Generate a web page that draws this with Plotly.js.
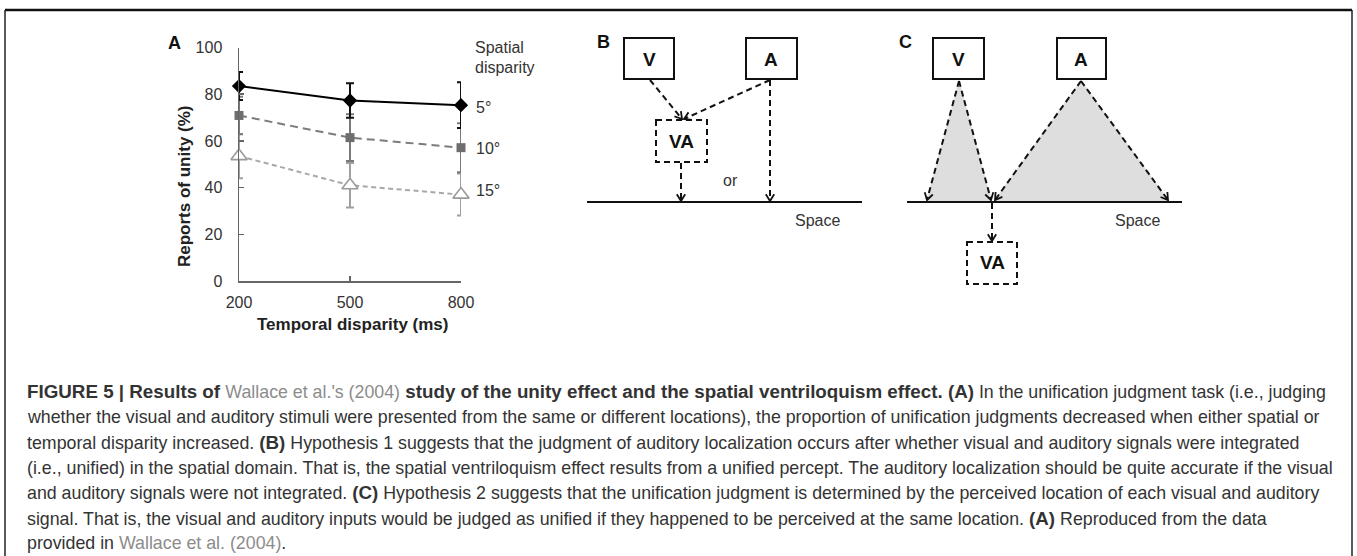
<!DOCTYPE html>
<html><head><meta charset="utf-8">
<script src="https://cdn.plot.ly/plotly-3.0.1.min.js"></script>
<style>html,body{margin:0;padding:0;background:#fff;} #chart{width:1357px;height:556px;}</style>
</head><body><div id="chart"></div>
<script>
// ---- data (panel A) ----
const temporalDisparity = [200, 500, 800];
const yTickVals = [0, 20, 40, 60, 80, 100];
const spatialLabels = ['5°', '10°', '15°'];
const unity5  = [83.5, 77.3, 75.3];
const err5    = [6, 7.4, 9.8];
const unity10 = [70.9, 61.4, 57.1];
const err10   = [8, 10, 10.5];
const unity15 = [53.5, 41, 37];
const err15   = [9.5, 9.5, 9];

const B = s => '<span style="font-size:18.8px"><b>' + s + '</b></span>';
const G = s => '<span style="color:#8c8c8c">' + s + '</span>';
const captionLines = [
  B('FIGURE 5 | Results of ') + G('Wallace et al.\'s (2004)') + B(' study of the unity effect and the spatial ventriloquism effect. (A)') + ' In the unification judgment task (i.e., judging',
  'whether the visual and auditory stimuli were presented from the same or different locations), the proportion of unification judgments decreased when either spatial or',
  'temporal disparity increased. ' + B('(B)') + ' Hypothesis 1 suggests that the judgment of auditory localization occurs after whether visual and auditory signals were integrated',
  '(i.e., unified) in the spatial domain. That is, the spatial ventriloquism effect results from a unified percept. The auditory localization should be quite accurate if the visual',
  'and auditory signals were not integrated. ' + B('(C)') + ' Hypothesis 2 suggests that the unification judgment is determined by the perceived location of each visual and auditory',
  'signal. That is, the visual and auditory inputs would be judged as unified if they happened to be perceived at the same location. ' + B('(A)') + ' Reproduced from the data',
  'provided in ' + G('Wallace et al. (2004)') + '.'
];

// ---- layout helpers (pixel -> paper) ----
const W = 1357, H = 556;
const px = x => x / W, py = y => 1 - y / H;
const FONT = 'Liberation Sans, Arial, sans-serif';
const DASH = '6px,4px';

function series(y, e, name, lineCol, dash, marker, errCol) {
  return {
    x: temporalDisparity, y: y, name: name, type: 'scatter', mode: 'lines+markers',
    line: {color: lineCol, width: 2, dash: dash}, marker: marker,
    error_y: {type: 'data', array: e, visible: true, color: errCol, thickness: 2, width: 4},
    cliponaxis: false, hoverinfo: 'skip', showlegend: false
  };
}
const traces = [
  series(unity15, err15, spatialLabels[2], '#a8a8a8', '5px,3.5px',
         {symbol: 'triangle-up', size: 14, color: '#ffffff', line: {color: '#9a9a9a', width: 1.6}}, '#a0a0a0'),
  series(unity10, err10, spatialLabels[1], '#7c7c7c', '8px,5px',
         {symbol: 'square', size: 9, color: '#6e6e6e'}, '#7a7a7a'),
  series(unity5, err5, spatialLabels[0], '#000000', 'solid',
         {symbol: 'diamond', size: 11, color: '#000000'}, '#111111')
];

const shapes = [];
const annotations = [];
function L(x0, y0, x1, y1, w, dash, col) {
  shapes.push({type: 'line', xref: 'paper', yref: 'paper', x0: px(x0), y0: py(y0), x1: px(x1), y1: py(y1),
    line: {color: col || '#111', width: w || 2, dash: dash || 'solid'}});
}
function rect(x0, y0, x1, y1, dash) {
  shapes.push({type: 'rect', xref: 'paper', yref: 'paper', x0: px(x0), y0: py(y0), x1: px(x1), y1: py(y1),
    line: {color: '#111', width: 2, dash: dash || 'solid'}, fillcolor: 'rgba(0,0,0,0)'});
}
function poly(pts, fill) {
  const d = pts.map((p, i) => (i ? 'L' : 'M') + px(p[0]) + ',' + py(p[1])).join(' ') + ' Z';
  shapes.push({type: 'path', xref: 'paper', yref: 'paper', path: d, fillcolor: fill, line: {width: 0}});
}
function arrow(x0, y0, x1, y1) {
  L(x0, y0, x1, y1, 2, DASH);
  const a = Math.atan2(y1 - y0, x1 - x0), len = 8, s = 0.55;
  const p1 = [x1 - len * Math.cos(a - s), y1 - len * Math.sin(a - s)];
  const p2 = [x1 - len * Math.cos(a + s), y1 - len * Math.sin(a + s)];
  shapes.push({type: 'path', xref: 'paper', yref: 'paper',
    path: 'M' + px(p1[0]) + ',' + py(p1[1]) + ' L' + px(x1) + ',' + py(y1) + ' L' + px(p2[0]) + ',' + py(p2[1]),
    line: {color: '#111', width: 1.8}});
}
function txt(x, y, t, opt) {
  opt = opt || {};
  annotations.push(Object.assign({xref: 'paper', yref: 'paper', x: px(x), y: py(y), text: t, showarrow: false,
    xanchor: opt.xa || 'center', yanchor: 'middle',
    font: {family: FONT, size: opt.size || 16, color: opt.color || '#333'}}, opt.extra || {}));
}

// frame
L(5, 10, 1352, 10, 2.5, 'solid', '#111');
L(5, 10, 5, 556, 1.5, 'solid', '#222');
L(1352, 10, 1352, 556, 1.5, 'solid', '#222');

// ---- panel A texts ----
txt(174, 43, '<b>A</b>', {size: 18, color: '#111'});
txt(185, 186, '<b>Reports of unity (%)</b>', {size: 17, color: '#222', extra: {textangle: -90}});
txt(352, 324, '<b>Temporal disparity (ms)</b>', {size: 17, color: '#222'});
txt(473, 47, 'Spatial', {xa: 'left'});
txt(473, 67, 'disparity', {xa: 'left'});
txt(474, 107, spatialLabels[0], {xa: 'left'});
txt(474, 148, spatialLabels[1], {xa: 'left'});
txt(474, 191, spatialLabels[2], {xa: 'left'});

// ---- panel B ----
txt(603, 42, '<b>B</b>', {size: 18, color: '#111'});
rect(624, 38, 674, 79);
rect(746, 38, 797, 79);
txt(649, 59, '<b>V</b>', {size: 19, color: '#111'});
txt(771, 59, '<b>A</b>', {size: 19, color: '#111'});
rect(656, 120, 707, 162, DASH);
txt(681, 141, '<b>VA</b>', {size: 19, color: '#111'});
arrow(650, 80, 682, 119);
arrow(770, 80, 684, 119);
arrow(681, 163, 681, 201);
arrow(770, 80, 770, 201);
L(587, 202, 862, 202, 2, 'solid', '#111');
txt(730, 180, 'or', {size: 16});
txt(817, 221, 'Space', {size: 16});

// ---- panel C ----
txt(905, 42, '<b>C</b>', {size: 18, color: '#111'});
poly([[959, 80], [926, 202], [992, 202]], '#dedede');
poly([[1081, 80], [993, 202], [1170, 202]], '#dedede');
rect(933, 38, 984, 79);
rect(1057, 38, 1106, 79);
txt(958, 59, '<b>V</b>', {size: 19, color: '#111'});
txt(1081, 59, '<b>A</b>', {size: 19, color: '#111'});
arrow(959, 81, 927, 200);
arrow(959, 81, 991, 200);
arrow(1081, 81, 995, 200);
arrow(1081, 81, 1168, 200);
L(907, 202, 1182, 202, 2, 'solid', '#111');
arrow(992, 203, 992, 241);
rect(967, 242, 1017, 284, DASH);
txt(992, 263, '<b>VA</b>', {size: 19, color: '#111'});
txt(1137, 221, 'Space', {size: 16});

// ---- caption ----
const capY0 = 392, capDy = 25.2;
captionLines.forEach((t, i) => txt(25, capY0 + i * capDy, t, {xa: 'left', size: 17.8, color: '#333'}));

const axisCommon = {showgrid: false, zeroline: false, showline: true, linecolor: '#666', linewidth: 1.5,
  ticks: 'inside', ticklen: 5, tickwidth: 1.5, tickcolor: '#666', fixedrange: true,
  tickfont: {family: FONT, size: 16, color: '#333'}};
const layout = {
  width: W, height: H, margin: {l: 0, r: 0, t: 0, b: 0},
  paper_bgcolor: '#ffffff', plot_bgcolor: 'rgba(0,0,0,0)', showlegend: false,
  xaxis: Object.assign({}, axisCommon, {domain: [px(239), px(461)], range: [200, 800],
    tickmode: 'array', tickvals: temporalDisparity, ticklabelstandoff: 6}),
  yaxis: Object.assign({}, axisCommon, {domain: [py(281), py(47.5)], range: [0, 100],
    tickmode: 'array', tickvals: yTickVals, ticklabelstandoff: 12}),
  shapes: shapes, annotations: annotations
};
Plotly.newPlot('chart', traces, layout, {staticPlot: true, displayModeBar: false});
</script></body></html>
